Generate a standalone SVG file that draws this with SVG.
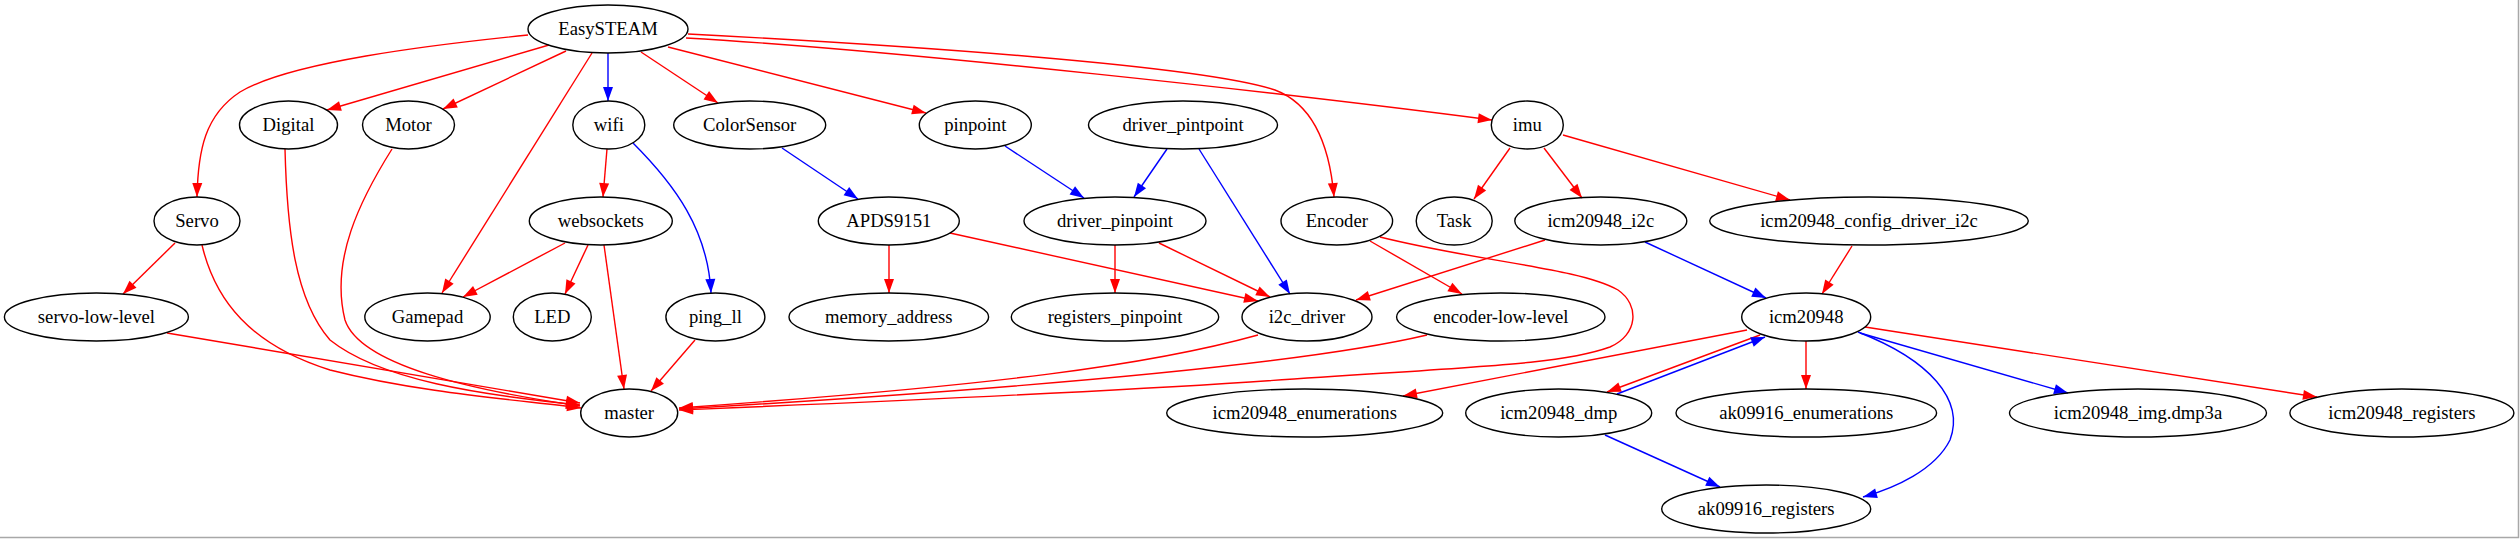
<svg xmlns="http://www.w3.org/2000/svg" width="2520" height="539" viewBox="0 0 2520 539">
<style>
.n ellipse{fill:none;stroke:#000;stroke-width:1.4}
.n text{font-family:"Liberation Serif","Times New Roman",serif;font-size:18.67px;text-anchor:middle;fill:#000}
.r{fill:none;stroke:#ff0000;stroke-width:1.4;marker-end:url(#ar)}
.b{fill:none;stroke:#0000ff;stroke-width:1.4;marker-end:url(#ab)}
</style>
<defs>
<marker id="ar" markerUnits="userSpaceOnUse" markerWidth="16" markerHeight="12" refX="14" refY="5" orient="auto" overflow="visible"><path d="M0,0 L14,5 L0,10 Z" fill="#ff0000"/></marker>
<marker id="ab" markerUnits="userSpaceOnUse" markerWidth="16" markerHeight="12" refX="14" refY="5" orient="auto" overflow="visible"><path d="M0,0 L14,5 L0,10 Z" fill="#0000ff"/></marker>
</defs>
<rect x="0" y="0" width="2520" height="539" fill="#fff"/>
<path d="M2518.5,0 V537.5 H0" fill="none" stroke="#a8a8a8" stroke-width="1.5"/>
<g id="edges">
<path class="r" d="M528,35 C430,45 290,62 240,92 C205,115 198,150 197,197"/>
<path class="r" d="M549,45 L327,110"/>
<path class="r" d="M566,51 L443,109"/>
<path class="r" d="M592,53 L442,293"/>
<path class="b" d="M608,53 L608,101"/>
<path class="r" d="M641,52 L718,103"/>
<path class="r" d="M668,47 L926,113"/>
<path class="r" d="M686,38 C900,50 1300,95 1492,120"/>
<path class="r" d="M688,34 C900,45 1200,65 1275,90 C1315,105 1330,150 1334,197"/>
<path class="r" d="M175,243 L123,294"/>
<path class="r" d="M202,245 C215,300 250,345 330,370 C420,393 520,400 581,408"/>
<path class="r" d="M167,333 L580,403"/>
<path class="r" d="M285,149 C287,230 295,300 330,340 C380,380 480,395 580,405"/>
<path class="r" d="M392,149 C360,200 330,260 345,320 C360,365 470,390 580,406"/>
<path class="r" d="M607,149 L603,197"/>
<path class="b" d="M633,143 C675,185 708,230 711,293"/>
<path class="r" d="M565,243 L463,297"/>
<path class="r" d="M588,245 L565,294"/>
<path class="r" d="M604,245 L624,389"/>
<path class="r" d="M695,340 L651,391"/>
<path class="b" d="M782,148 L858,199"/>
<path class="b" d="M1005,146 L1084,198"/>
<path class="b" d="M1167,149 L1134,197"/>
<path class="b" d="M1199,149 L1290,294"/>
<path class="r" d="M889,245 L889,293"/>
<path class="r" d="M950,233 L1258,301"/>
<path class="r" d="M1115,245 L1115,293"/>
<path class="r" d="M1159,243 L1270,297"/>
<path class="r" d="M1370,241 L1462,294"/>
<path class="r" d="M1380,237 C1480,262 1580,268 1618,290 C1640,305 1638,335 1610,347 C1560,365 1480,366 1250,382 C1050,395 800,405 679,410"/>
<path class="r" d="M1258,335 C1150,365 1000,385 679,408"/>
<path class="r" d="M1427,335 C1300,365 1000,390 679,409"/>
<path class="r" d="M1510,148 L1474,199"/>
<path class="r" d="M1544,148 L1582,198"/>
<path class="r" d="M1563,135 L1790,200"/>
<path class="r" d="M1545,240 L1356,300"/>
<path class="b" d="M1645,242 L1766,298"/>
<path class="r" d="M1852,246 L1822,294"/>
<path class="r" d="M1747,330 L1403,396"/>
<path class="r" d="M1760,335 L1607,392"/>
<path class="b" d="M1617,394 L1765,337"/>
<path class="r" d="M1806,341 L1806,389"/>
<path class="b" d="M1860,333 L2068,393"/>
<path class="r" d="M1865,327 L2317,397"/>
<path class="b" d="M1858,332 C1930,360 1965,400 1950,440 C1935,470 1895,488 1863,497"/>
<path class="b" d="M1605,435 L1720,487"/>
</g>
<g id="EasySTEAM" class="n"><ellipse cx="608" cy="29" rx="80" ry="24"/><text x="608" y="35">EasySTEAM</text></g>
<g id="Digital" class="n"><ellipse cx="288.5" cy="125" rx="49" ry="24"/><text x="288.5" y="131">Digital</text></g>
<g id="Motor" class="n"><ellipse cx="408.5" cy="125" rx="46" ry="24"/><text x="408.5" y="131">Motor</text></g>
<g id="wifi" class="n"><ellipse cx="608.8" cy="125" rx="36" ry="24"/><text x="608.8" y="131">wifi</text></g>
<g id="ColorSensor" class="n"><ellipse cx="749.7" cy="125" rx="76" ry="24"/><text x="749.7" y="131">ColorSensor</text></g>
<g id="pinpoint" class="n"><ellipse cx="975.3" cy="125" rx="56" ry="24"/><text x="975.3" y="131">pinpoint</text></g>
<g id="driver_pintpoint" class="n"><ellipse cx="1183" cy="125" rx="94.5" ry="24"/><text x="1183" y="131">driver_pintpoint</text></g>
<g id="imu" class="n"><ellipse cx="1527.3" cy="125" rx="36" ry="24"/><text x="1527.3" y="131">imu</text></g>
<g id="Servo" class="n"><ellipse cx="197" cy="221" rx="43" ry="24"/><text x="197" y="227">Servo</text></g>
<g id="websockets" class="n"><ellipse cx="600.8" cy="221" rx="71.5" ry="24"/><text x="600.8" y="227">websockets</text></g>
<g id="APDS9151" class="n"><ellipse cx="888.8" cy="221" rx="70.5" ry="24"/><text x="888.8" y="227">APDS9151</text></g>
<g id="driver_pinpoint" class="n"><ellipse cx="1115" cy="221" rx="91" ry="24"/><text x="1115" y="227">driver_pinpoint</text></g>
<g id="Encoder" class="n"><ellipse cx="1336.8" cy="221" rx="55.8" ry="24"/><text x="1336.8" y="227">Encoder</text></g>
<g id="Task" class="n"><ellipse cx="1454.2" cy="221" rx="38" ry="24"/><text x="1454.2" y="227">Task</text></g>
<g id="icm20948_i2c" class="n"><ellipse cx="1600.8" cy="221" rx="86" ry="24"/><text x="1600.8" y="227">icm20948_i2c</text></g>
<g id="icm20948_config_driver_i2c" class="n"><ellipse cx="1869" cy="221" rx="159.3" ry="24"/><text x="1869" y="227">icm20948_config_driver_i2c</text></g>
<g id="servo-low-level" class="n"><ellipse cx="96.4" cy="317" rx="92" ry="24"/><text x="96.4" y="323">servo-low-level</text></g>
<g id="Gamepad" class="n"><ellipse cx="427.5" cy="317" rx="62.7" ry="24"/><text x="427.5" y="323">Gamepad</text></g>
<g id="LED" class="n"><ellipse cx="552.3" cy="317" rx="39" ry="24"/><text x="552.3" y="323">LED</text></g>
<g id="ping_ll" class="n"><ellipse cx="715.4" cy="317" rx="49.5" ry="24"/><text x="715.4" y="323">ping_ll</text></g>
<g id="memory_address" class="n"><ellipse cx="888.8" cy="317" rx="99.8" ry="24"/><text x="888.8" y="323">memory_address</text></g>
<g id="registers_pinpoint" class="n"><ellipse cx="1115" cy="317" rx="103.7" ry="24"/><text x="1115" y="323">registers_pinpoint</text></g>
<g id="i2c_driver" class="n"><ellipse cx="1307" cy="317" rx="65" ry="24"/><text x="1307" y="323">i2c_driver</text></g>
<g id="encoder-low-level" class="n"><ellipse cx="1500.8" cy="317" rx="104.2" ry="24"/><text x="1500.8" y="323">encoder-low-level</text></g>
<g id="icm20948" class="n"><ellipse cx="1806.2" cy="317" rx="64.5" ry="24"/><text x="1806.2" y="323">icm20948</text></g>
<g id="master" class="n"><ellipse cx="629.2" cy="413" rx="48.5" ry="24"/><text x="629.2" y="419">master</text></g>
<g id="icm20948_enumerations" class="n"><ellipse cx="1304.7" cy="413" rx="138" ry="24"/><text x="1304.7" y="419">icm20948_enumerations</text></g>
<g id="icm20948_dmp" class="n"><ellipse cx="1558.7" cy="413" rx="93" ry="24"/><text x="1558.7" y="419">icm20948_dmp</text></g>
<g id="ak09916_enumerations" class="n"><ellipse cx="1806.3" cy="413" rx="130.3" ry="24"/><text x="1806.3" y="419">ak09916_enumerations</text></g>
<g id="icm20948_img.dmp3a" class="n"><ellipse cx="2138" cy="413" rx="128.5" ry="24"/><text x="2138" y="419">icm20948_img.dmp3a</text></g>
<g id="icm20948_registers" class="n"><ellipse cx="2401.9" cy="413" rx="112" ry="24"/><text x="2401.9" y="419">icm20948_registers</text></g>
<g id="ak09916_registers" class="n"><ellipse cx="1766.2" cy="509" rx="104.5" ry="24"/><text x="1766.2" y="515">ak09916_registers</text></g>
</svg>
